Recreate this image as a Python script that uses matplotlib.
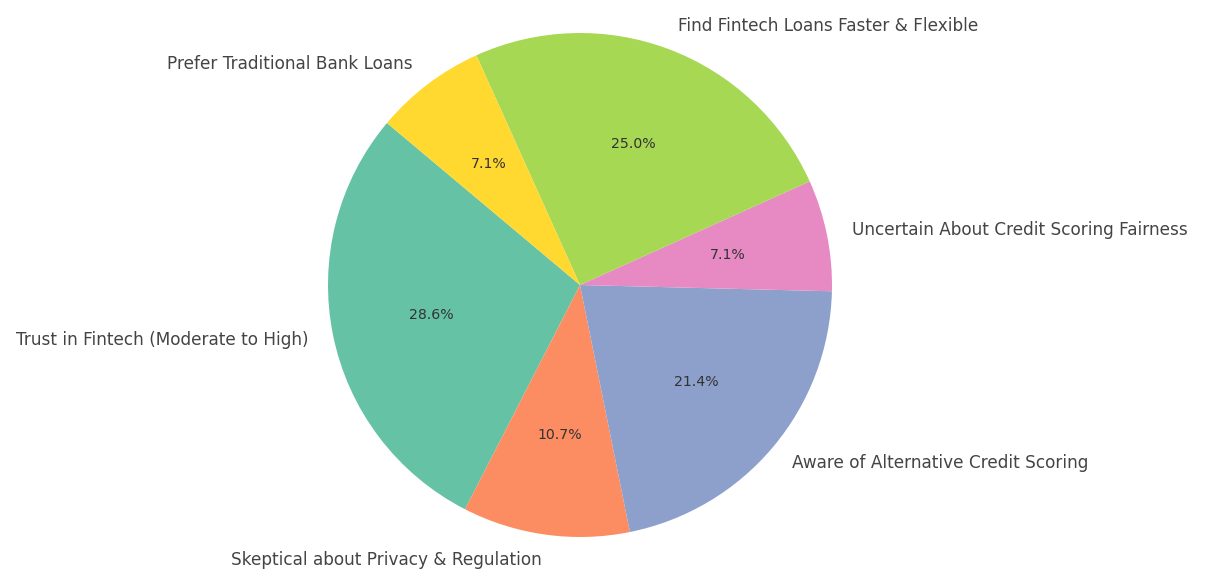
import matplotlib.pyplot as plt

labels = [
    "Trust in Fintech (Moderate to High)",
    "Skeptical about Privacy & Regulation",
    "Aware of Alternative Credit Scoring",
    "Uncertain About Credit Scoring Fairness",
    "Find Fintech Loans Faster & Flexible",
    "Prefer Traditional Bank Loans",
]
counts = [8, 3, 6, 2, 7, 2]
colors = ["#66c2a5", "#fc8d62", "#8da0cb", "#e78ac3", "#a6d854", "#ffd92f"]

fig = plt.figure(figsize=(12.05, 5.69), dpi=100)
ax = fig.add_axes([0, 0, 1, 1])

wedges, texts, autotexts = ax.pie(
    counts,
    labels=labels,
    colors=colors,
    autopct="%1.1f%%",
    startangle=140,
    textprops={"fontsize": 12.2, "color": "#444444"},
)
for t in autotexts:
    t.set_fontsize(10.2)
    t.set_color("#333333")

# pie centre at (580, 285) px, radius 252 px
r = 252.0
ax.set_aspect("auto")
ax.set_xlim(-580 / r, 625 / r)
ax.set_ylim(-284 / r, 285 / r)
ax.axis("off")

fig.savefig("out.png", dpi=100)
